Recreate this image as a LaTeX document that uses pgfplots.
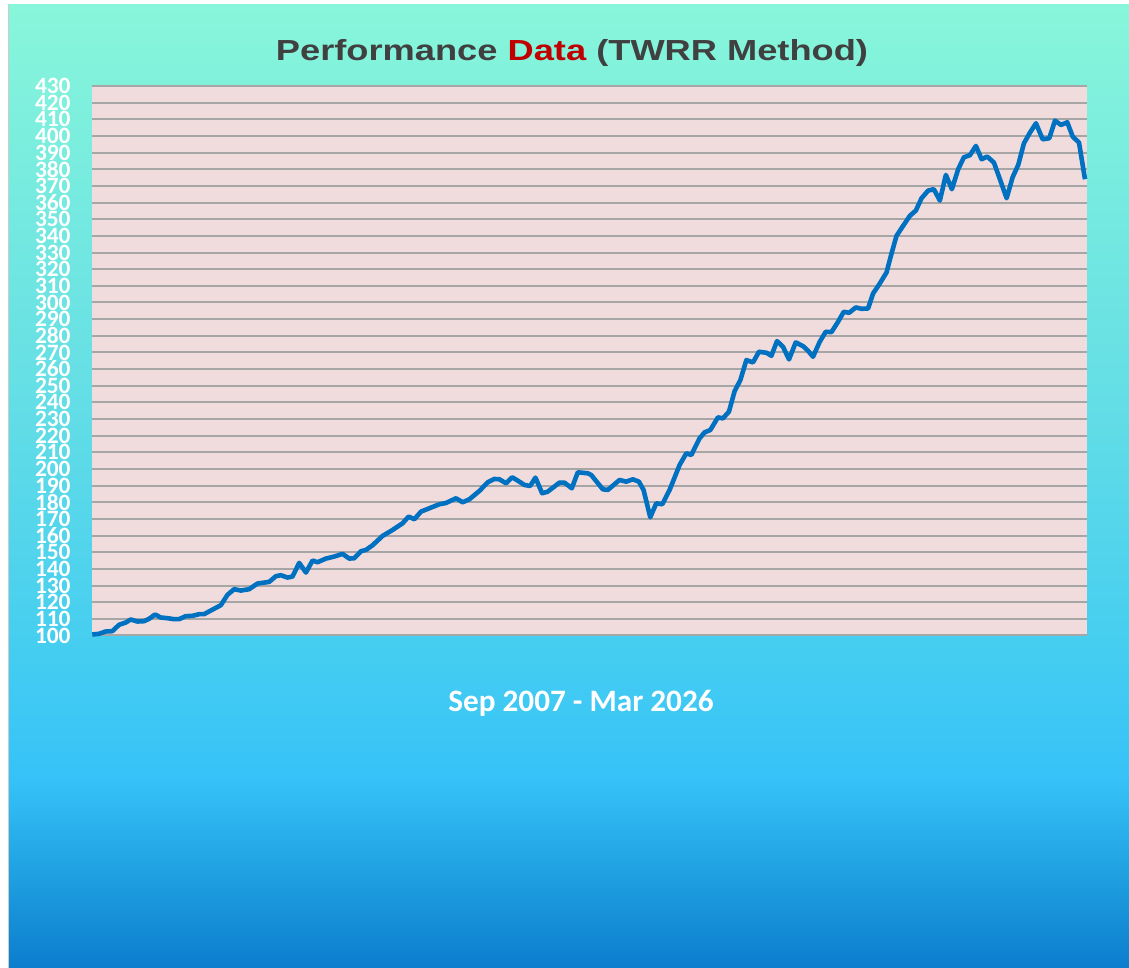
\documentclass[border=0pt]{standalone}
\usepackage{pgfplots}
\pgfplotsset{compat=1.18}
\usepackage{fontspec}
\setmainfont{Carlito}
\newfontfamily\titlefont{Liberation Sans}
\definecolor{pinkbg}{RGB}{240,220,220}
\definecolor{gridc}{RGB}{166,166,166}
\definecolor{lineblue}{RGB}{0,112,192}
\definecolor{titlegray}{RGB}{64,64,64}
\definecolor{titlered}{RGB}{192,0,0}
\pgfdeclareverticalshading{bgshade}{100bp}{%
  color(0bp)=(rgb,255:red,12;green,125;blue,205);
  color(25bp)=(rgb,255:red,12;green,125;blue,205);
  color(30.1bp)=(rgb,255:red,32;green,162;blue,226);
  color(34.8bp)=(rgb,255:red,54;green,194;blue,248);
  color(42bp)=(rgb,255:red,70;green,206;blue,240);
  color(54.5bp)=(rgb,255:red,100;green,222;blue,230);
  color(75bp)=(rgb,255:red,136;green,246;blue,218);
  color(100bp)=(rgb,255:red,136;green,246;blue,218)}
\begin{document}
\begin{tikzpicture}[x=0.5pt,y=0.5pt]
\useasboundingbox (0,0) rectangle (1129,968);
\fill[white] (0,0) rectangle (1129,968);
\shade[shading=bgshade] (8,0) rectangle (1129,963);
\draw[gray!40, line width=0.5pt] (8,0) -- (8,963);
\begin{axis}[
  at={(46pt,166.25pt)}, anchor=south west,
  scale only axis, width=497.5pt, height=274.75pt,
  xmin=93, xmax=1087, ymin=100, ymax=430,
  ytick={100,110,...,430}, xtick=\empty,
  ymajorgrids, grid style={gridc, line width=1pt},
  axis line style={draw=none},
  major tick length=0pt,
  axis background/.style={fill=pinkbg},
  /pgf/number format/assume math mode=true,
  yticklabel style={font=\fontsize{11.7}{11.7}\selectfont\bfseries, text=white, anchor=east, inner sep=0pt, xshift=-10.5pt},
  clip=false,
]
\addplot[lineblue, line width=2.3pt, line join=round, no marks] coordinates {
(93.3,100.6) (100,101.0) (106.7,102.4) (113.3,102.6) (120,106.4) (126.7,107.8) (131.7,109.6) (138.3,108.4)
(145,108.6) (150,110.0) (156,112.6) (161.7,110.8) (168.3,110.4) (175,109.8) (180,109.8) (186.7,111.6)
(193.3,111.8) (200,112.8) (205,112.8) (211.7,115.0) (221.7,118.2) (228.3,124.4) (235,127.8) (241.7,127.0)
(250,127.8) (258.3,131.2) (270,132.2) (276.7,135.6) (281.7,136.2) (288.3,134.8) (293.3,135.4) (300,143.6)
(306.7,137.8) (313.3,145.0) (318.3,144.0) (326.7,146.2) (335,147.4) (343.3,149.0) (350,146.2) (355,146.4)
(361.7,150.6) (366.7,151.4) (373.3,154.2) (383.3,159.8) (393.3,163.4) (403.3,167.4) (409.3,171.4) (415,169.8)
(421.7,174.4) (430,176.4) (440,178.8) (446.7,179.6) (456.7,182.4) (463.3,180.0) (470,181.8) (480,186.8)
(488.3,192.0) (495,194.0) (500,193.8) (506.7,191.4) (512.7,195.0) (518.3,193.0) (525,190.4) (530.7,189.8)
(536,194.8) (542.7,185.4) (548.3,186.4) (560,191.8) (565,191.8) (572.3,188.4) (578.3,198.0) (588.3,197.4)
(591.7,196.4) (603.3,187.8) (608.3,187.4) (620,193.4) (626.7,192.4) (633.3,193.8) (639.3,192.4) (644,187.4)
(650.7,171.0) (656.7,179.4) (662.7,178.8) (670,187.4) (680,202.4) (686.7,209.4) (691.7,208.4) (700,218.4)
(705,222.0) (710.7,223.4) (718.3,231.0) (723.3,230.4) (729.3,234.4) (735,246.8) (740.7,253.4) (746.7,265.4)
(753.3,264.0) (759.3,270.4) (766.7,269.8) (771.7,268.0) (777.3,276.8) (783.3,273.4) (789.3,265.8) (796,276.0)
(803.3,273.8) (808.3,271.0) (813.3,267.4) (820,276.4) (826,282.4) (831.7,282.2) (838.3,288.4) (844,294.4)
(849.3,293.8) (856,297.0) (861.7,296.2) (868.3,296.4) (873.3,305.4) (880,311.4) (886.7,318.0) (891.7,329.4)
(896.7,340.0) (901.7,344.6) (910,352.0) (916,355.2) (921.7,362.6) (928.3,367.2) (934,368.0) (940,361.2)
(946,376.6) (952,368.0) (958.3,380.0) (964,387.2) (970,388.4) (976,394.0) (981.7,386.0) (987.3,387.6)
(994,384.0) (1000,374.0) (1006.7,362.6) (1012.7,375.2) (1018.3,382.6) (1024,395.6) (1030,402.0) (1036,407.6)
(1042.7,398.0) (1049.3,398.6) (1055,409.2) (1061,406.6) (1067.3,408.2) (1072.7,399.6) (1079,396.0) (1085,374.0)
};
\end{axis}
\node[text=titlegray, inner sep=0pt] at (572,915) {\scalebox{1.25}[1]{\titlefont\fontsize{14.5}{14.5}\selectfont\bfseries Performance \textcolor{titlered}{Data} (TWRR Method)}};
\node[text=white, inner sep=0pt] at (581,265) {\fontsize{15.6}{15.6}\selectfont\bfseries Sep 2007 - Mar 2026};
\end{tikzpicture}
\end{document}
